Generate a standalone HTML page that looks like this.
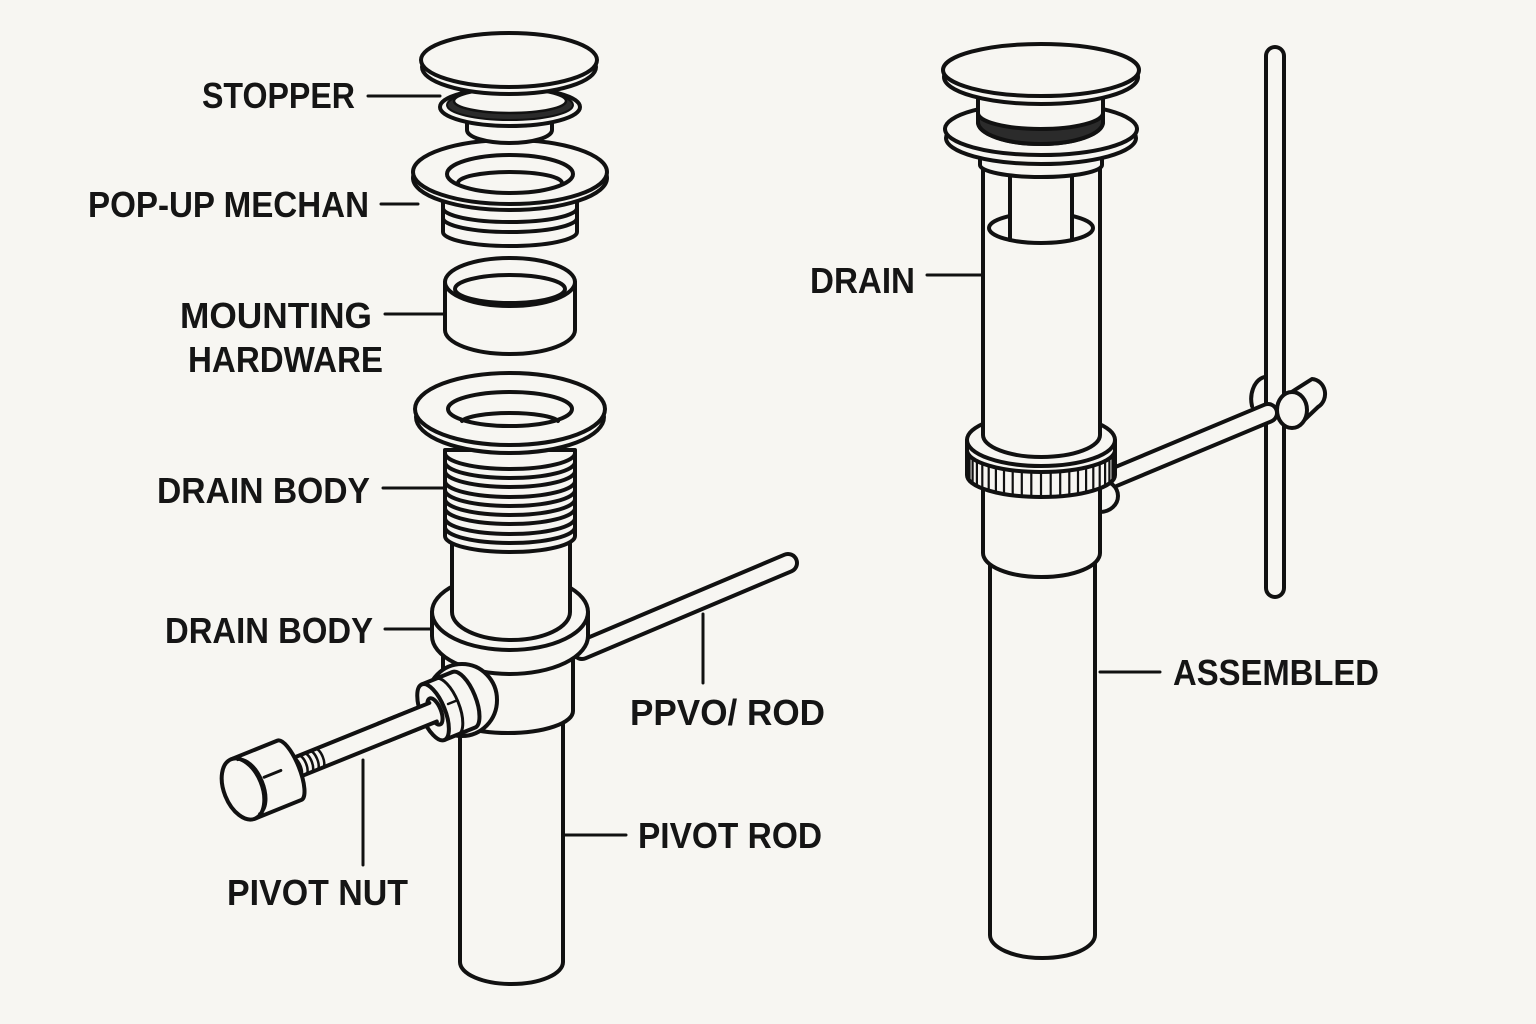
<!DOCTYPE html>
<html>
<head>
<meta charset="utf-8">
<style>
  html,body{margin:0;padding:0;background:#f7f6f2;}
  svg{display:block;}
  text{font-family:"Liberation Sans",sans-serif;font-weight:bold;font-size:36px;fill:#151515;}
</style>
</head>
<body>
<svg width="1536" height="1024" viewBox="0 0 1536 1024" xmlns="http://www.w3.org/2000/svg">
<rect x="0" y="0" width="1536" height="1024" fill="#f7f6f2"/>

<g fill="#f7f6f2" stroke="#111" stroke-width="4" stroke-linejoin="round" stroke-linecap="round">

<!-- ================= LEFT (exploded) ================= -->
<!-- pivot rod going up-right (behind collar) -->
<line x1="582" y1="650" x2="788" y2="563" stroke="#111" stroke-width="22"/>
<line x1="582" y1="650" x2="788" y2="563" stroke="#f7f6f2" stroke-width="14"/>

<!-- tailpipe -->
<path d="M460,715 L460,962 A51.5,22 0 0 0 563,962 L563,715 Z"/>
<!-- tee body -->
<path d="M443,640 L443,711 A65,22 0 0 0 573,711 L573,640 Z"/>
<!-- collar -->
<path d="M432,612 L432,636 A78,38 0 0 0 588,636 L588,612 A78,38 0 0 0 432,612 Z"/>
<path d="M432,612 A78,38 0 0 0 588,612" fill="none"/>
<!-- neck -->
<path d="M452,540 L452,612 A59,28 0 0 0 570,612 L570,540 Z"/>

<!-- threaded drain body -->
<path d="M445,450 L445,536 A65,16 0 0 0 575,536 L575,450 Z"/>
<g fill="none">
<path d="M445,453 A65,16 0 0 0 575,453"/>
<path d="M445,462 A65,16 0 0 0 575,462"/>
<path d="M445,471 A65,16 0 0 0 575,471"/>
<path d="M445,481 A65,16 0 0 0 575,481"/>
<path d="M445,490 A65,16 0 0 0 575,490"/>
<path d="M445,499 A65,16 0 0 0 575,499"/>
<path d="M445,508 A65,16 0 0 0 575,508"/>
<path d="M445,518 A65,16 0 0 0 575,518"/>
<path d="M445,527 A65,16 0 0 0 575,527"/>
</g>
<!-- drain body flange -->
<ellipse cx="510" cy="417" rx="94" ry="36"/>
<ellipse cx="510" cy="409" rx="95" ry="36"/>
<ellipse cx="510" cy="409" rx="62" ry="17"/>
<path d="M462,421 A49,10 0 0 1 558,421" fill="none"/>

<!-- boss on tee -->
<ellipse cx="462" cy="700" rx="35" ry="36"/>

<!-- pivot nut assembly along rod axis -->
<g transform="translate(243,789) rotate(-22)">
  <!-- rod -->
  <rect x="50" y="-10" width="160" height="20" rx="2"/>
  <!-- threads -->
  <g fill="none" stroke-width="2.5">
    <path d="M58,-10 A4,10 0 0 1 58,10"/>
    <path d="M64,-10 A4,10 0 0 1 64,10"/>
    <path d="M70,-10 A4,10 0 0 1 70,10"/>
    <path d="M76,-10 A4,10 0 0 1 76,10"/>
    <path d="M82,-10 A4,10 0 0 1 82,10"/>
  </g>
  <!-- knob -->
  <path d="M0,-32 L50,-32 A10,32 0 0 1 50,32 L0,32 Z"/>
  <ellipse cx="0" cy="0" rx="19" ry="32"/>
  <path d="M6,-29 A15,29 0 0 1 6,29" fill="none" stroke-width="2.5"/>
  <line x1="24" y1="-3" x2="42" y2="-3" stroke-width="3"/>
  <!-- nut -->
  <path d="M205,-30 L238,-30 A12,30 0 0 1 238,30 L205,30 Z"/>
  <path d="M220,-30 A12,30 0 0 1 220,30" fill="none" stroke-width="3"/>
  <ellipse cx="205" cy="0" rx="12" ry="30"/>
  <ellipse cx="207" cy="0" rx="6" ry="14"/>
  <rect x="150" y="-10" width="57" height="20" stroke="none"/>
  <line x1="150" y1="-10" x2="205" y2="-10"/>
  <line x1="150" y1="10" x2="205" y2="10"/>
  <line x1="222" y1="-2" x2="232" y2="-2" stroke-width="2.5"/>
</g>

<!-- mounting hardware -->
<path d="M445,282 L445,330 A65,24 0 0 0 575,330 L575,282 Z"/>
<ellipse cx="510" cy="282" rx="65" ry="24"/>
<ellipse cx="510" cy="289" rx="55" ry="14"/>

<!-- pop-up flange threads -->
<path d="M443,200 L443,232 A67,14 0 0 0 577,232 L577,200 Z"/>
<path d="M443,208 A67,14 0 0 0 577,208" fill="none"/>
<path d="M443,218 A67,14 0 0 0 577,218" fill="none"/>
<!-- pop-up flange -->
<ellipse cx="510" cy="178" rx="97" ry="32"/>
<ellipse cx="510" cy="172" rx="97" ry="32"/>
<ellipse cx="510" cy="174" rx="63" ry="19"/>
<path d="M458,183 A52,11 0 0 1 562,183" fill="none"/>

<!-- stopper -->
<path d="M467,116 L467,130 A42.5,13 0 0 0 552,130 L552,116 Z"/>
<ellipse cx="510" cy="107" rx="70" ry="19"/>
<ellipse cx="510" cy="105" rx="63" ry="15" fill="#2b2b2b" stroke-width="2"/>
<ellipse cx="510" cy="101" rx="56" ry="12" stroke-width="2.5"/>
<ellipse cx="509" cy="67" rx="87" ry="27"/>
<ellipse cx="509" cy="60" rx="88" ry="27"/>

<!-- ================= RIGHT (assembled) ================= -->
<!-- tailpipe -->
<path d="M990,560 L990,935 A52.5,23 0 0 0 1095,935 L1095,560 Z"/>
<!-- lower tube -->
<path d="M983,480 L983,553 A58.5,24 0 0 0 1100,553 L1100,480 Z"/>

<!-- clip loop behind -->
<path d="M1252,406 A16,22 0 0 1 1283,392" fill="none"/>
<!-- vertical rod -->
<line x1="1275" y1="56" x2="1275" y2="588" stroke="#111" stroke-width="22"/>
<line x1="1275" y1="56" x2="1275" y2="588" stroke="#f7f6f2" stroke-width="14"/>
<!-- horizontal pivot rod -->
<line x1="1110" y1="479" x2="1268" y2="413" stroke="#111" stroke-width="22"/>
<line x1="1110" y1="479" x2="1268" y2="413" stroke="#f7f6f2" stroke-width="14"/>
<!-- boss bump -->
<path d="M1100,480 A18,16 0 0 1 1100,512 Z"/>

<!-- knurled nut -->
<path d="M967,440 L967,475 A74,22 0 0 0 1115,475 L1115,440 A74,26 0 0 0 967,440 Z"/>
<path d="M967,440 A74,26 0 0 0 1115,440" fill="none"/>
<path d="M967,450 A74,22 0 0 0 1115,450" fill="none"/>
<g stroke-width="2.2">
<line x1="967.6" y1="452.9" x2="967.6" y2="477.9"/><line x1="1114.4" y1="452.9" x2="1114.4" y2="477.9"/>
<line x1="969.5" y1="455.7" x2="969.5" y2="480.7"/><line x1="1112.5" y1="455.7" x2="1112.5" y2="480.7"/>
<line x1="972.6" y1="458.4" x2="972.6" y2="483.4"/><line x1="1109.4" y1="458.4" x2="1109.4" y2="483.4"/>
<line x1="976.9" y1="461" x2="976.9" y2="486"/><line x1="1105.1" y1="461" x2="1105.1" y2="486"/>
<line x1="982.3" y1="463.4" x2="982.3" y2="488.4"/><line x1="1099.7" y1="463.4" x2="1099.7" y2="488.4"/>
<line x1="988.7" y1="465.6" x2="988.7" y2="490.6"/><line x1="1093.3" y1="465.6" x2="1093.3" y2="490.6"/>
<line x1="995.9" y1="467.5" x2="995.9" y2="492.5"/><line x1="1086.1" y1="467.5" x2="1086.1" y2="492.5"/>
<line x1="1004" y1="469.1" x2="1004" y2="494.1"/><line x1="1078" y1="469.1" x2="1078" y2="494.1"/>
<line x1="1012.7" y1="470.3" x2="1012.7" y2="495.3"/><line x1="1069.3" y1="470.3" x2="1069.3" y2="495.3"/>
<line x1="1021.8" y1="471.2" x2="1021.8" y2="496.2"/><line x1="1060.2" y1="471.2" x2="1060.2" y2="496.2"/>
<line x1="1031.3" y1="471.8" x2="1031.3" y2="496.8"/><line x1="1050.7" y1="471.8" x2="1050.7" y2="496.8"/>
<line x1="1041" y1="472" x2="1041" y2="497"/>
</g>

<!-- upper tube -->
<path d="M983,150 L983,435 A58.5,22 0 0 0 1100,435 L1100,150 Z"/>
<!-- inner opening + linkage -->
<ellipse cx="1041" cy="228" rx="52" ry="15"/>
<rect x="1010" y="172" width="62" height="66" stroke="none"/>
<line x1="1010" y1="174" x2="1010" y2="240"/>
<line x1="1072" y1="174" x2="1072" y2="240"/>
<!-- flange underside collar -->
<path d="M980,150 L980,165 A61,12 0 0 0 1102,165 L1102,150 Z"/>
<!-- flange -->
<ellipse cx="1041" cy="138" rx="95" ry="26"/>
<ellipse cx="1041" cy="129" rx="96" ry="26"/>
<!-- stopper body with dark band -->
<path d="M978,92 L978,122 A62.5,22 0 0 0 1103,122 L1103,92 Z"/>
<path d="M978,113 A62.5,16 0 0 0 1103,113 L1103,122 A62.5,22 0 0 1 978,122 Z" fill="#2b2b2b"/>
<!-- cap -->
<ellipse cx="1041" cy="77" rx="97" ry="27"/>
<ellipse cx="1041" cy="70" rx="98" ry="26"/>

<!-- clip ball -->
<path d="M1290,393 L1312,379 A14,15 0 0 1 1318,407 L1298,426 Z"/>
<ellipse cx="1292" cy="410" rx="15" ry="18"/>

<!-- ================= LEADER LINES ================= -->
<g stroke-width="3" fill="none">
<line x1="368" y1="96" x2="440" y2="96"/>
<line x1="381" y1="204" x2="418" y2="204"/>
<line x1="385" y1="314" x2="445" y2="314"/>
<line x1="383" y1="488" x2="445" y2="488"/>
<line x1="385" y1="629" x2="432" y2="629"/>
<line x1="703" y1="614" x2="703" y2="683"/>
<line x1="563" y1="835" x2="626" y2="835"/>
<line x1="363" y1="760" x2="363" y2="865"/>
<line x1="927" y1="275" x2="983" y2="275"/>
<line x1="1100" y1="672" x2="1160" y2="672"/>
</g>
</g>

<!-- ================= LABELS ================= -->
<text x="202" y="108" textLength="153" lengthAdjust="spacingAndGlyphs">STOPPER</text>
<text x="88" y="217" textLength="281" lengthAdjust="spacingAndGlyphs">POP-UP MECHAN</text>
<text x="180" y="328" textLength="192" lengthAdjust="spacingAndGlyphs">MOUNTING</text>
<text x="188" y="372" textLength="195" lengthAdjust="spacingAndGlyphs">HARDWARE</text>
<text x="157" y="503" textLength="213" lengthAdjust="spacingAndGlyphs">DRAIN BODY</text>
<text x="165" y="643" textLength="208" lengthAdjust="spacingAndGlyphs">DRAIN BODY</text>
<text x="630" y="725" textLength="195" lengthAdjust="spacingAndGlyphs">PPVO/ ROD</text>
<text x="638" y="848" textLength="184" lengthAdjust="spacingAndGlyphs">PIVOT ROD</text>
<text x="227" y="905" textLength="181" lengthAdjust="spacingAndGlyphs">PIVOT NUT</text>
<text x="810" y="293" textLength="105" lengthAdjust="spacingAndGlyphs">DRAIN</text>
<text x="1173" y="685" textLength="206" lengthAdjust="spacingAndGlyphs">ASSEMBLED</text>
</svg>
</body>
</html>
